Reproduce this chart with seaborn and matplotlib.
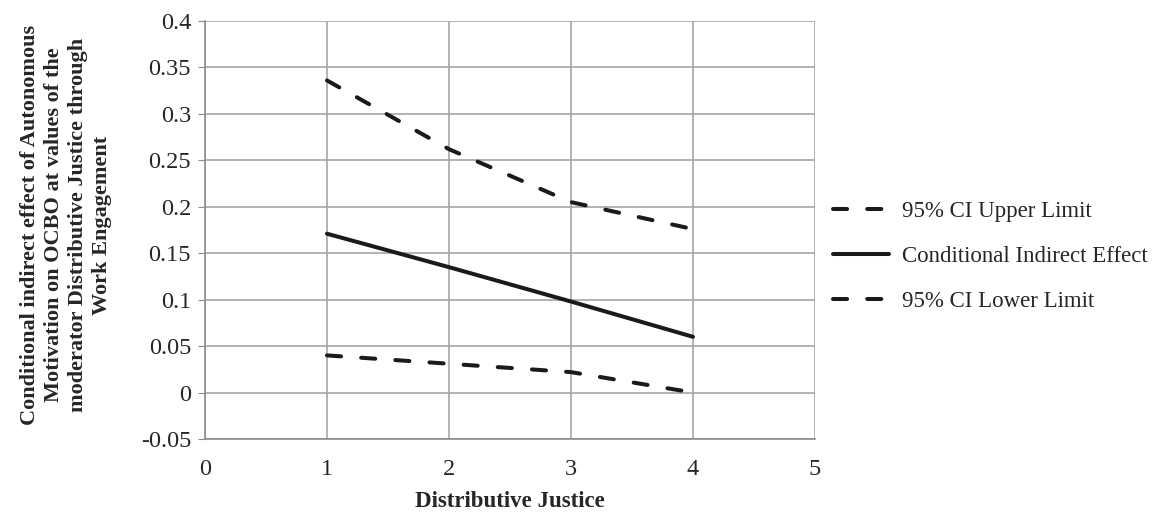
import seaborn as sns
import matplotlib.pyplot as plt
import pandas as pd

justice = [1, 2, 3, 4]
upper = [0.336, 0.262, 0.205, 0.176]
effect = [0.171, 0.135, 0.098, 0.060]
lower = [0.040, 0.031, 0.022, 0.000]

sns.set_style('white')
plt.rcParams['font.family'] = ['Liberation Serif', 'DejaVu Serif']

fig = plt.figure(figsize=(11.61, 5.13), dpi=100)
ax = fig.add_axes([205 / 1161, 1 - 439 / 513, 610 / 1161, 418 / 513])

df = pd.DataFrame({'x': justice, 'up': upper, 'eff': effect, 'lo': lower})
dash = (0, (3.5, 5))
sns.lineplot(data=df, x='x', y='up', color='#1a1a1a', lw=2.9,
             linestyle=dash, dash_capstyle='round', ax=ax, label='95% CI Upper Limit')
sns.lineplot(data=df, x='x', y='eff', color='#1a1a1a', lw=2.9, ax=ax,
             label='Conditional Indirect Effect')
sns.lineplot(data=df, x='x', y='lo', color='#1a1a1a', lw=2.9,
             linestyle=dash, dash_capstyle='round', ax=ax, label='95% CI Lower Limit')

ax.set_xlim(0, 5)
ax.set_ylim(-0.05, 0.4)
ax.set_xticks([0, 1, 2, 3, 4, 5])
ax.set_yticks([-0.05, 0, 0.05, 0.1, 0.15, 0.2, 0.25, 0.3, 0.35, 0.4])
ax.set_yticklabels(['-0.05', '0', '0.05', '0.1', '0.15', '0.2', '0.25', '0.3', '0.35', '0.4'])
ax.grid(True, color='#a6a6a6', lw=1.2)
for s in ['top', 'right']:
    ax.spines[s].set_visible(False)
for s in ['left', 'bottom']:
    ax.spines[s].set_color('#8c8c8c')
    ax.spines[s].set_linewidth(1.2)
ax.tick_params(axis='y', left=True, length=5, color='#8c8c8c', labelsize=17.5, pad=5)
ax.tick_params(axis='x', bottom=False, labelsize=17.5, pad=11)

ax.set_xlabel('Distributive Justice', fontsize=16.5, fontweight='bold', labelpad=8)
ax.set_ylabel('Conditional indirect effect of Autonomous\nMotivation on OCBO at values of the\n'
              'moderator Distributive Justice through\nWork Engagement',
              fontsize=16, fontweight='bold', linespacing=1.28)
ax.yaxis.set_label_coords(-0.152, 0.512)

ax.legend(loc='center left', bbox_to_anchor=(0.995, 0.437), frameon=False, fontsize=16.5,
          handlelength=2.45, handletextpad=0.6, labelspacing=1.05)

fig.savefig('out.png', dpi=100)
